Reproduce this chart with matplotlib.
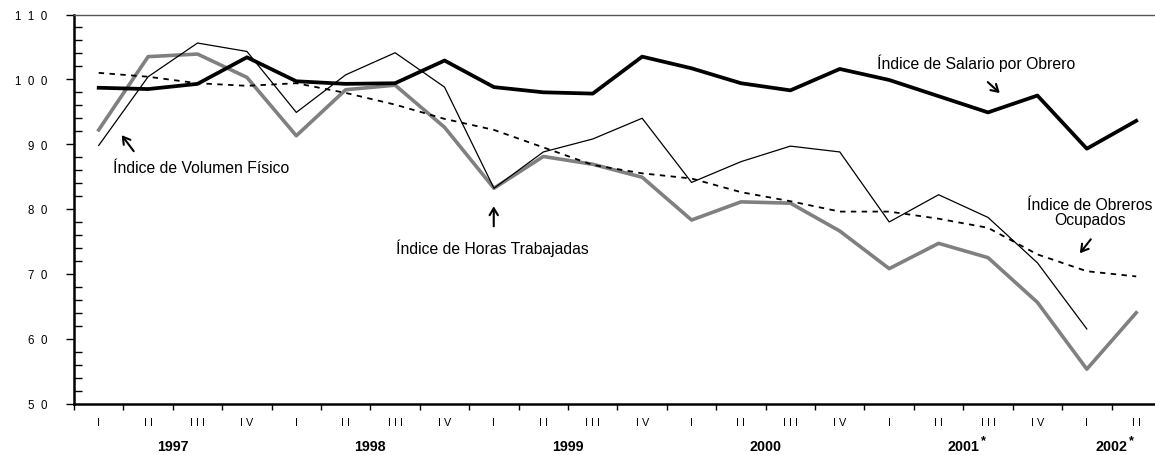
import matplotlib
matplotlib.use("Agg")
import matplotlib.pyplot as plt
from matplotlib.ticker import MultipleLocator, FixedLocator, NullFormatter
from matplotlib.transforms import blended_transform_factory, offset_copy

plt.rcParams['font.family'] = ['Liberation Sans', 'DejaVu Sans']

quarters = ["I", "I I", "I I I", "I V"] * 5 + ["I", "I I"]
years = ["1997", "1998", "1999", "2000", "2001", "2002"]
year_marks = ["", "", "", "", "*", "*"]
year_pos = [1.5, 5.5, 9.5, 13.5, 17.5, 20.5]

salario = [98.7, 98.5, 99.3, 103.4, 99.7, 99.3, 99.4, 102.9, 98.8, 98.0, 97.8,
           103.5, 101.7, 99.4, 98.3, 101.6, 99.9, 97.4, 94.9, 97.5, 89.3, 93.6]
volumen = [89.8, 100.4, 105.6, 104.3, 94.9, 100.7, 104.1, 98.8, 83.2, 88.8, 90.8,
           94.0, 84.1, 87.3, 89.7, 88.8, 78.0, 82.2, 78.7, 71.7, 61.5]
horas = [92.2, 103.5, 103.9, 100.3, 91.3, 98.4, 99.1, 92.6, 83.2, 88.1, 86.9,
         84.9, 78.3, 81.1, 80.9, 76.6, 70.8, 74.7, 72.5, 65.6, 55.3, 64.0]
obreros = [101.0, 100.4, 99.4, 99.0, 99.4, 97.9, 96.1, 93.9, 92.2, 89.5, 86.8,
           85.5, 84.7, 82.6, 81.2, 79.6, 79.6, 78.5, 77.1, 73.0, 70.4, 69.6]

y_ticks = [50, 60, 70, 80, 90, 100, 110]
y_labels = ["5  0", "6  0", "7  0", "8  0", "9  0", "1  0  0", "1  1  0"]

W, H = 1155, 456
fig = plt.figure(figsize=(W / 100, H / 100), dpi=100)
ax = fig.add_axes([74 / W, 1 - 404.5 / H, (1155 - 74) / W, (404.5 - 15.5) / H])

x_all = list(range(len(quarters)))
ax.plot(x_all[:len(horas)], horas, color="#808080", lw=2.6, zorder=2)
ax.plot(x_all[:len(obreros)], obreros, color="black", lw=1.3, ls=(0, (3, 3)), zorder=3)
ax.plot(x_all[:len(volumen)], volumen, color="black", lw=0.9, zorder=4)
ax.plot(x_all[:len(salario)], salario, color="black", lw=2.7, zorder=5)

ax.set_xlim(-0.5, 21.38)
ax.set_ylim(50, 110)

# spines
ax.spines['right'].set_visible(False)
ax.spines['left'].set_linewidth(1.8)
ax.spines['bottom'].set_linewidth(1.8)
ax.spines['top'].set_linewidth(1.0)
ax.spines['top'].set_color("#555555")

# y ticks
ax.yaxis.set_major_locator(FixedLocator(y_ticks))
ax.set_yticklabels(y_labels)
ax.yaxis.set_minor_locator(MultipleLocator(2))
ax.tick_params(axis='y', which='major', direction='out', length=6, width=1.0,
               labelsize=8.3, pad=13, colors='black')
ax.tick_params(axis='y', which='minor', direction='in', length=6, width=1.0)

# x ticks: boundaries as major ticks, labels at centers as minor
ax.xaxis.set_major_locator(FixedLocator([k - 0.5 for k in range(len(quarters) + 1)]))
ax.xaxis.set_major_formatter(NullFormatter())
ax.xaxis.set_minor_locator(FixedLocator(x_all))
ax.set_xticklabels(quarters, minor=True)
ax.tick_params(axis='x', which='major', direction='out', length=4, width=1.0)
ax.tick_params(axis='x', which='minor', length=0, labelsize=7.8, pad=10)

trans = blended_transform_factory(ax.transData, fig.transFigure)
for yp, yl, ym in zip(year_pos, years, year_marks):
    ax.text(yp, 1 - 447 / H, yl, transform=trans, ha='center', va='center',
            fontsize=10.3, fontweight='bold')
    if ym:
        t2 = offset_copy(trans, fig=fig, x=20, y=6, units='dots')
        ax.text(yp, 1 - 447 / H, ym, transform=t2, ha='center', va='center',
                fontsize=9, fontweight='bold')

arrow = dict(arrowstyle='->,head_length=0.5,head_width=0.3', lw=1.5, color='black',
             shrinkA=0, shrinkB=0)

def px(x, y):
    return ((x - 99) / 49.4, 110 - (y - 15.5) / 6.475)

fs = 11.3
ax.text(*px(113, 168), "Índice de Volumen Físico", fontsize=fs, ha='left', va='center')
ax.annotate("", xy=px(122, 136), xytext=px(134, 152), arrowprops=arrow)

ax.text(*px(396, 248), "Índice de Horas Trabajadas", fontsize=fs, ha='left', va='center')
ax.annotate("", xy=px(494, 207), xytext=px(494, 227), arrowprops=arrow)

ax.text(*px(877, 63), "Índice de Salario por Obrero", fontsize=fs, ha='left', va='center')
ax.annotate("", xy=px(1000, 94), xytext=px(988, 83), arrowprops=arrow)

ax.text(*px(1090, 213), "Índice de Obreros\nOcupados", fontsize=fs, ha='center',
        va='center', linespacing=1.0)
ax.annotate("", xy=px(1080, 254), xytext=px(1091, 240), arrowprops=arrow)

fig.savefig("out.png", dpi=100)
